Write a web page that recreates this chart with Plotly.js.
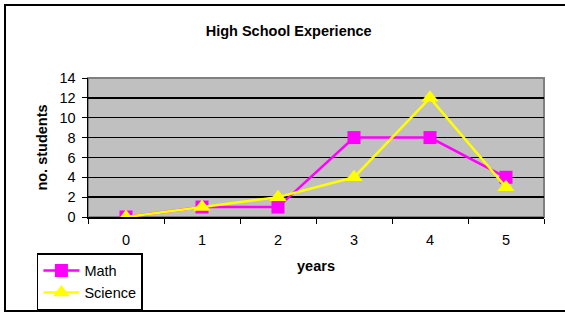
<!DOCTYPE html>
<html><head><meta charset="utf-8">
<script src="https://cdn.plot.ly/plotly-3.0.1.min.js"></script>
<style>
html,body{margin:0;padding:0;background:#fff;}
#wrap{position:relative;width:565px;height:313px;}
#chart{width:565px;height:313px;}
#frame{position:absolute;left:4px;top:4px;width:570px;height:308px;border:2px solid #000;box-sizing:border-box;pointer-events:none;}
</style></head>
<body>
<div id="wrap"><div id="chart"></div><div id="frame"></div></div>
<script>
const years = ['0','1','2','3','4','5'];
const math = [0,1,1,8,8,4];
const science = [0,1,2,4,12,3];
const yTicks = [0,2,4,6,8,10,12,14];

const FS = 14.5;
const font = {family:'Arial, Liberation Sans, sans-serif', size:FS, color:'#000'};
const traces = [
  {x:years, y:math, name:'Math', type:'scatter', mode:'lines+markers',
   line:{color:'#FF00FF', width:2.5}, marker:{symbol:'square', size:13, color:'#FF00FF'}},
  {x:years, y:science, name:'Science', type:'scatter', mode:'lines+markers',
   line:{color:'#FFFF00', width:2.5}, marker:{symbol:'triangle-up', size:15, color:'#FFFF00'}}
];
const layout = {
  width:565, height:313,
  margin:{l:88, r:21, t:78, b:96, autoexpand:false},
  paper_bgcolor:'#fff', plot_bgcolor:'#C0C0C0',
  font:font,
  showlegend:true,
  title:{text:'<b>High School Experience</b>', font:{family:font.family, size:FS, color:'#000'},
         x:0.511, xref:'container', y:0.9, yref:'container', yanchor:'middle'},
  xaxis:{type:'category', range:[-0.5,5.5], tickson:'boundaries', ticks:'outside', ticklen:5,
         tickcolor:'#000', showline:true, linecolor:'#000', linewidth:1.5, showgrid:false, zeroline:false,
         tickfont:font, ticklabelstandoff:9,
         title:{text:'<b>years</b>', font:{family:font.family, size:FS, color:'#000'}, standoff:14}},
  yaxis:{range:[0,14], tickvals:yTicks, ticks:'outside', ticklen:5, tickcolor:'#000',
         showline:true, linecolor:'#000', linewidth:1.5, showgrid:true, gridcolor:'#000', gridwidth:1.3,
         zeroline:false, tickfont:font, ticklabelstandoff:3,
         title:{text:'<b>no. students</b>', font:{family:font.family, size:FS, color:'#000'}, standoff:8}},
  legend:{x:-0.112, xanchor:'left', y:-0.26, yanchor:'top', bgcolor:'#fff', bordercolor:'#000', borderwidth:1.5,
          font:font, tracegroupgap:0, itemwidth:36},
  shapes:[{type:'rect', xref:'paper', yref:'paper', x0:0, x1:1, y0:0, y1:1,
           line:{color:'#808080', width:2}, layer:'below'}]
};
Plotly.newPlot('chart', traces, layout, {displayModeBar:false, staticPlot:true});
</script>
</body></html>
